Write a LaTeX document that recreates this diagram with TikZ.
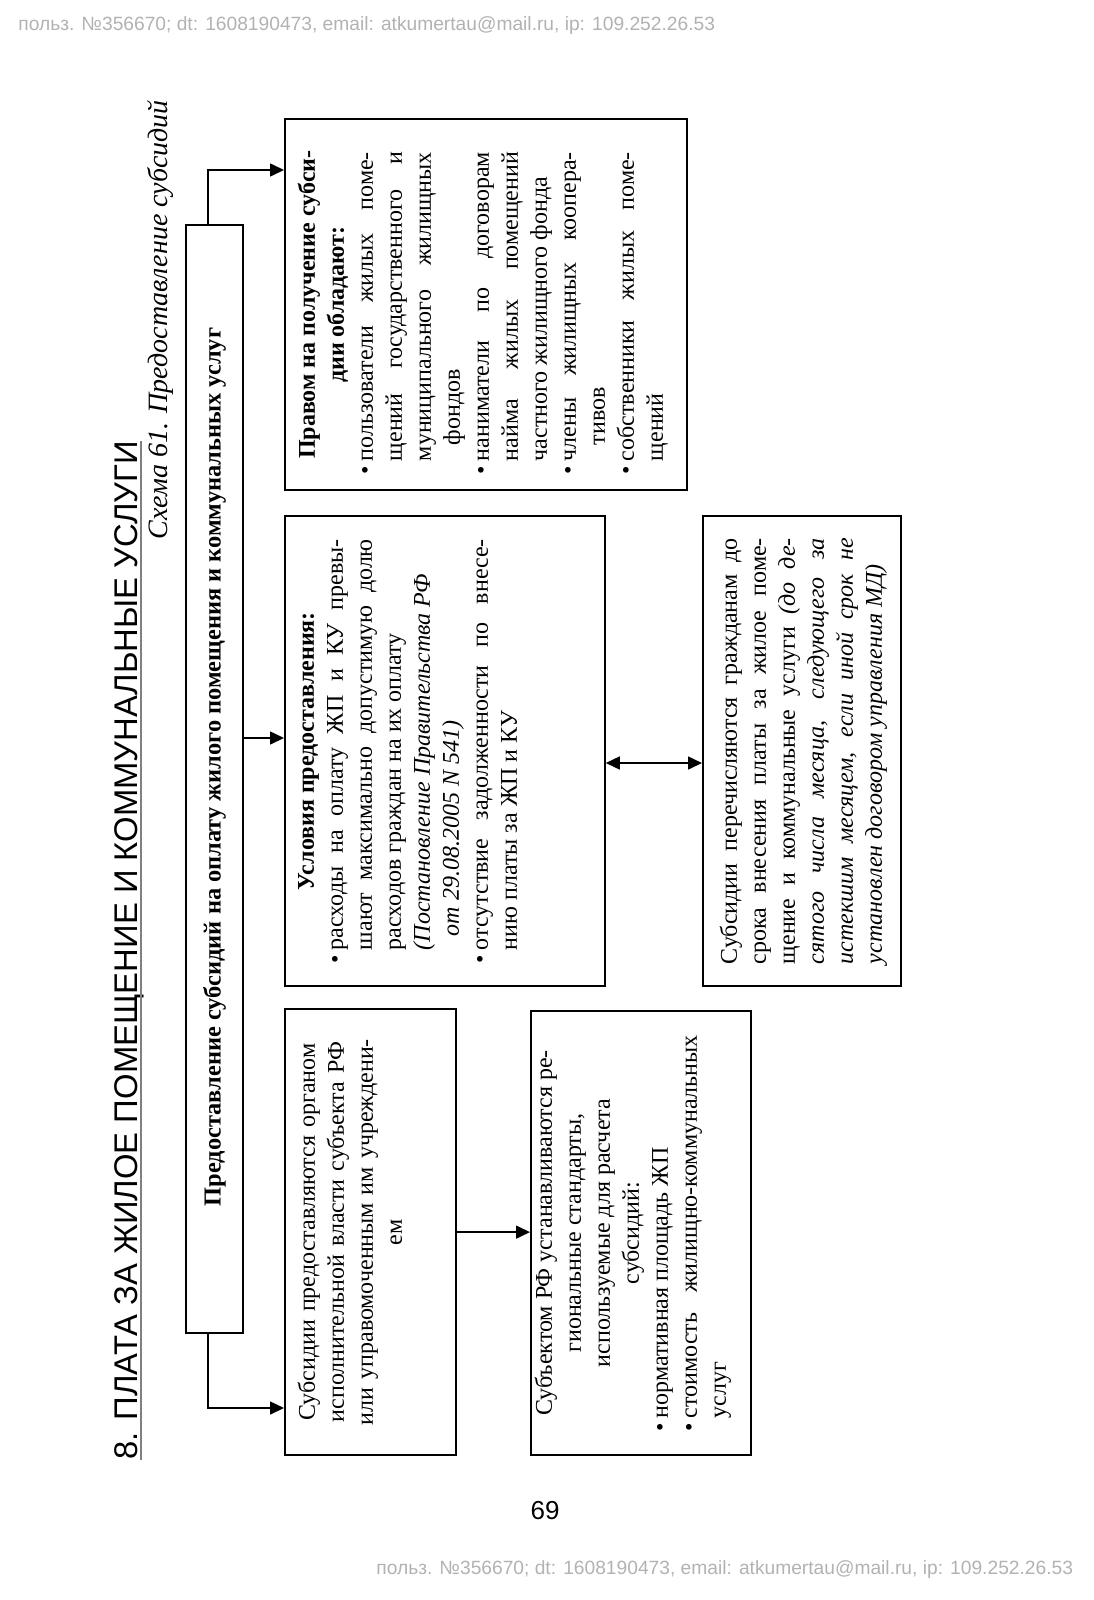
\documentclass[tikz,border=0pt]{standalone}
\usepackage{fontspec}
\setmainfont{Liberation Serif}
\newfontfamily\headfont{Liberation Sans}
\usetikzlibrary{arrows.meta}
\setlength{\parindent}{0pt}
\tolerance=10000
\hbadness=10000
\hfuzz=20pt
\newcommand\itm{\par\noindent\hangindent=6.5pt\hangafter=1\makebox[6.5pt][l]{\textbullet}}

\begin{document}
\begin{tikzpicture}[x=0.5pt,y=-0.5pt,>={Triangle[length=7pt,width=6.5pt]},
  box/.style={draw,line width=0.9pt,rotate=90,anchor=north west,align=justify,
    font=\fontsize{12}{14.5}\selectfont,text height=9pt,inner xsep=12pt,inner ysep=6pt},
  arr/.style={line width=0.8pt},
  wmark/.style={anchor=west,inner sep=0pt,text=black!30,font=\headfont\fontsize{9.6}{11}\selectfont}]
  \useasboundingbox (0,0) rectangle (1093,1600);
  % watermarks, page number
  \node[wmark] (wmtop) at (18,26) {польз. №356670; dt: 1608190473, email: atkumertau@mail.ru, ip: 109.252.26.53};
  \node[wmark] (wmbot) at (376,1570) {польз. №356670; dt: 1608190473, email: atkumertau@mail.ru, ip: 109.252.26.53};
  \node[font=\headfont\fontsize{13}{15}\selectfont] (pagenum) at (545,1511) {69};
  % headings
  \node[rotate=90,anchor=base west,inner sep=0pt,font=\headfont\fontsize{16.4}{19}\selectfont] (title) at (137,1460) {8. ПЛАТА ЗА ЖИЛОЕ ПОМЕЩЕНИЕ И КОММУНАЛЬНЫЕ УСЛУГИ};
  \draw[black!50,line width=1.3pt] ([xshift=2pt]title.base west) -- ([xshift=2pt]title.base east);
  \node[rotate=90,anchor=base east,inner sep=0pt,font=\itshape\fontsize{14}{16}\selectfont] (subtitle) at (167,100) {Схема 61. Предоставление субсидий};
  % main box
  \node[draw,line width=1pt,rotate=90,minimum width=554pt,minimum height=28.5pt,inner sep=0pt,
    font=\bfseries\fontsize{12.2}{14.5}\selectfont] (main) at (214.5,779)
    {\hspace*{12pt}Предоставление субсидий на оплату жилого помещения и коммунальных услуг};
  % upper row
  \node[box,text width=169.5pt,inner xsep=8pt,text depth=180pt] (rights) at (284,491) {%
    \rightskip=8.5pt
    {\centering\bfseries Правом на получение субси-\\дии обладают:\par}
    \itm пользователи жилых поме-\linebreak щений государственного и\linebreak муниципального~жилищных\linebreak\hspace*{8pt}фондов\par
    \itm наниматели по договорам\linebreak найма жилых помещений\linebreak частного~жилищного~фонда\par
    \itm члены жилищных коопера-\linebreak\hspace*{8pt}тивов\par
    \itm собственники жилых поме-\linebreak щений\par};
  \node[box,text width=212pt,inner xsep=11.5pt,inner ysep=5.5pt,text depth=140pt] (cond) at (284,987) {%
    {\centering\bfseries Условия предоставления:\par}
    \itm расходы на оплату ЖП и КУ превы-\linebreak шают~максимально~допустимую~долю\linebreak расходов граждан на их оплату\newline\textit{(Постановление~Правительства~РФ\newline\hspace*{7pt}от 29.08.2005 N 541)}\par
    \itm отсутствие задолженности по внесе-\linebreak нию платы за ЖП и КУ\par};
  \node[box,align=center,text width=205pt,inner xsep=9pt,text depth=64.5pt] (grant) at (284,1456)
    {Субсидии предоставляются органом\\исполнительной власти субъекта РФ\\или управомоченным им учреждени-\\ем};
  % lower row
  \node[box,text width=198pt,inner ysep=1.5pt,text depth=98pt] (std) at (530,1456) {%
    {\centering Субъектом РФ устанавливаются ре-\\гиональные стандарты,\\используемые для расчета\\субсидий:\par}
    \itm нормативная площадь ЖП\par
    \itm стоимость~жилищно-коммунальных\linebreak услуг\par};
  \node[box,text width=213pt,inner xsep=11pt,inner ysep=8pt,text depth=74pt] (pay) at (702,987) {%
    \rightskip=3pt
    Субсидии перечисляются гражданам до\linebreak срока внесения платы за жилое поме-\linebreak щение и коммунальные услуги \textit{(до де-\linebreak сятого числа месяца, следующего за\linebreak истекшим месяцем, если иной срок не\linebreak установлен~договором~управления~МД)}};
  % connectors
  \coordinate (tb) at (208,170);
  \coordinate (bb) at (208,1408);
  \coordinate (ca) at (0,738);
  \coordinate (cp) at (0,763);
  \draw[arr,->] (main.east -| tb) -- (tb) -- (rights.north |- tb);
  \draw[arr,->] (main.west -| bb) -- (bb) -- (grant.north |- bb);
  \draw[arr,->] (main.south |- ca) -- (cond.north |- ca);
  \draw[arr,->] (grant.south) -- (std.north |- grant.south);
  \draw[arr,<->] (cond.south |- cp) -- (pay.north |- cp);
\end{tikzpicture}
\end{document}
